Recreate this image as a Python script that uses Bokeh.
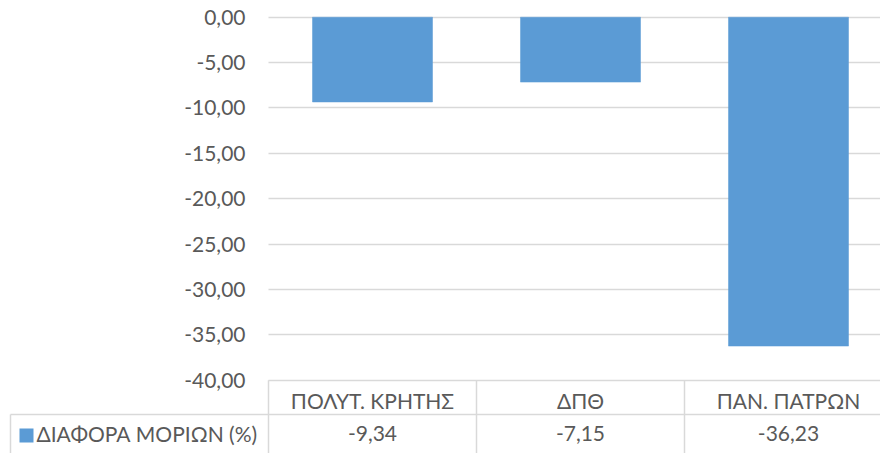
from bokeh.plotting import figure
from bokeh.models import Range1d, FixedTicker, CustomJSTickFormatter, ColumnDataSource
from bokeh.core.properties import value
from bokeh.embed import file_html
from bokeh.resources import INLINE

# ---------------- data ----------------
categories = ["ΠΟΛΥΤ. ΚΡΗΤΗΣ", "ΔΠΘ", "ΠΑΝ. ΠΑΤΡΩΝ"]
values = [-9.34, -7.15, -36.23]
series_name = "ΔΙΑΦΟΡΑ ΜΟΡΙΩΝ (%)"
y_ticks = [0, -5, -10, -15, -20, -25, -30, -35, -40]

# ---------------- layout (picture pixels) ----------------
FIG_W, FIG_H = 880, 453
PAGE_OFF = 0
X0_PX, COL_PX = 268, 208          # x of first column edge, column width
Y0_PX, PX_PER_UNIT = 16.7, 9.0775  # y of value 0, pixels per unit

def px_x(px):
    return (px - X0_PX) / COL_PX

def px_y(py):
    return -(py - Y0_PX) / PX_PER_UNIT

TEXT = "#595959"
GRID = "#d9d9d9"
BAR = "#5b9bd5"
FONT = "Lato"
FS = "21px"

x_start, x_end = px_x(PAGE_OFF), px_x(PAGE_OFF + FIG_W)
y_top, y_bot = px_y(PAGE_OFF), px_y(PAGE_OFF + FIG_H)

p = figure(width=FIG_W, height=FIG_H, output_backend="svg", toolbar_location=None,
           x_range=Range1d(x_start, x_end), y_range=Range1d(y_bot, y_top),
           min_border_left=0, min_border_right=0, min_border_top=0, min_border_bottom=0)
p.outline_line_color = None
p.background_fill_color = "white"
p.border_fill_color = "white"

# grid (horizontal value lines only over the plot area)
p.xgrid.grid_line_color = None
p.ygrid.ticker = FixedTicker(ticks=y_ticks)
p.ygrid.grid_line_color = GRID
p.ygrid.grid_line_width = 1.5
p.ygrid.cross_bounds = (0, x_end)

# bars
n = len(categories)
xs = [i + 0.5 for i in range(n)]
src = ColumnDataSource(dict(x=xs, top=[0] * n, bottom=values))
p.vbar(x="x", top="top", bottom="bottom", width=0.577, source=src,
       fill_color=BAR, line_color=BAR, line_width=0.5)

# y axis placed at the plot-area edge
ya = p.yaxis[0]
ya.fixed_location = 0
ya.ticker = FixedTicker(ticks=y_ticks)
ya.formatter = CustomJSTickFormatter(code="return tick.toFixed(2).replace('.', ',');")
ya.axis_line_color = None
ya.major_tick_line_color = None
ya.minor_tick_line_color = None
ya.major_tick_out = 0
ya.major_tick_in = 0
ya.major_label_standoff = 23
ya.major_label_text_font = FONT
ya.major_label_text_font_size = FS
ya.major_label_text_color = TEXT

# x axis as the header row of the data table
xa = p.xaxis[0]
xa.fixed_location = -40
xa.ticker = FixedTicker(ticks=xs)
xa.major_label_overrides = {x: c for x, c in zip(xs, categories)}
xa.axis_line_color = None
xa.major_tick_line_color = None
xa.minor_tick_line_color = None
xa.major_tick_out = 0
xa.major_tick_in = 0
xa.major_label_standoff = 8
xa.major_label_text_font = FONT
xa.major_label_text_font_size = FS
xa.major_label_text_color = TEXT

# data table lines
row2_top = px_y(414)
left_edge = px_x(10)
col_edges = [float(i) for i in range(n + 1)]
p.segment(x0=col_edges, y0=[-40] * len(col_edges), x1=col_edges, y1=[y_bot] * len(col_edges),
          line_color=GRID, line_width=1.5)
p.segment(x0=[left_edge, left_edge], y0=[row2_top, row2_top], x1=[x_end, left_edge], y1=[row2_top, y_bot],
          line_color=GRID, line_width=1.5)

# data table values
row2_mid = px_y(433)
labels = [f"{v:.2f}".replace(".", ",") for v in values]
p.text(x=xs, y=[row2_mid] * n, text=labels, text_align="center", text_baseline="middle",
       text_font=value(FONT), text_font_size=FS, text_color=TEXT)

# legend key in table
p.scatter(x=[px_x(26)], y=[px_y(435)], marker="square", size=14, fill_color=BAR, line_color=None)
p.text(x=[px_x(36)], y=[row2_mid], text=[series_name], text_align="left", text_baseline="middle",
       text_font=value(FONT), text_font_size=FS, text_color=TEXT)

open("out.html", "w").write(file_html(p, INLINE))
